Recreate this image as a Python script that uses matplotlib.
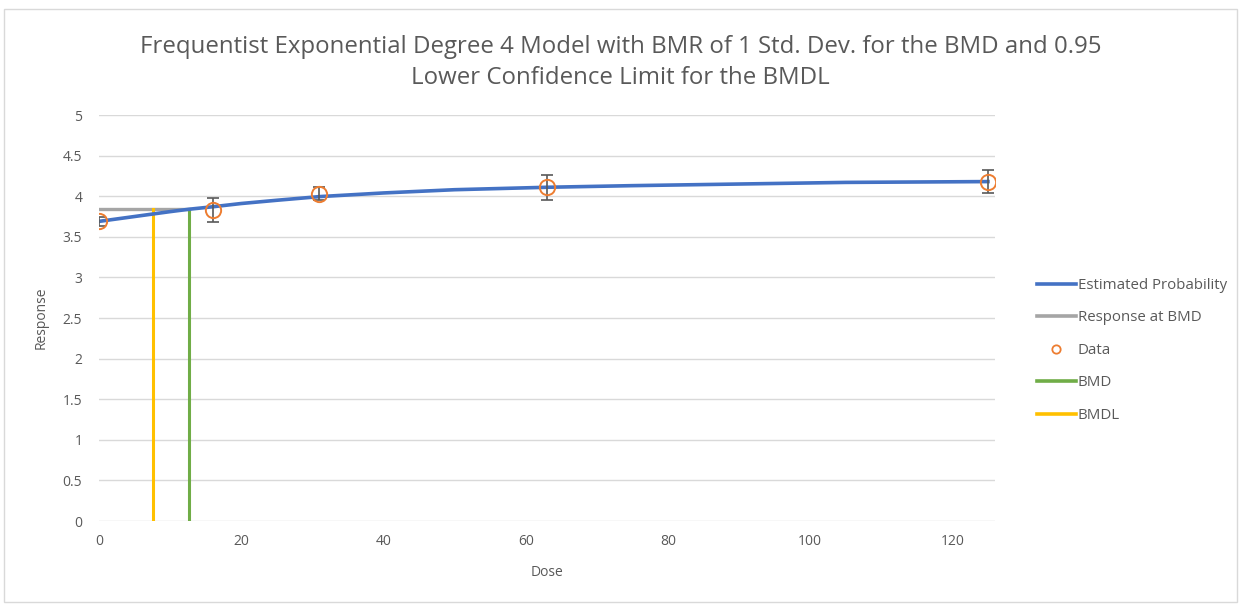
import matplotlib.pyplot as plt
from matplotlib.lines import Line2D
from matplotlib.patches import Rectangle

plt.rcParams['font.family'] = ['Open Sans', 'DejaVu Sans']

# model curve
curve_dose = [0, 5, 10, 12.7, 16, 20, 25, 31, 40, 50, 63, 75, 90, 105, 125]
curve_resp = [3.69, 3.75, 3.81, 3.84, 3.87, 3.91, 3.95, 3.995, 4.04, 4.08, 4.11, 4.13, 4.15, 4.17, 4.18]

# observed data with error bars
data_dose = [0, 16, 31, 63, 125]
data_resp = [3.69, 3.83, 4.03, 4.11, 4.18]
data_err = [0.06, 0.147, 0.08, 0.155, 0.145]

bmd = 12.7
bmdl = 7.6
resp_at_bmd = 3.846

xticks = [0, 20, 40, 60, 80, 100, 120]
yticks = [0, 0.5, 1, 1.5, 2, 2.5, 3, 3.5, 4, 4.5, 5]
ytick_labels = ['0', '0.5', '1', '1.5', '2', '2.5', '3', '3.5', '4', '4.5', '5']

txt = '#595959'
blue = '#4472C4'
gray = '#A5A5A5'
orange = '#ED7D31'
green = '#70AD47'
yellow = '#FFC000'

fig = plt.figure(figsize=(12.41, 6.04), dpi=100)
ax = fig.add_axes([0.0798, 0.1374, 0.7220, 0.6722])

# chart border
fig.patches.append(Rectangle((0.003, 0.003), 0.994, 0.982, transform=fig.transFigure,
                             fill=False, edgecolor='#D9D9D9', linewidth=1))

ax.plot(curve_dose, curve_resp, color=blue, linewidth=2.6, zorder=4)
ax.plot([0, bmd], [resp_at_bmd, resp_at_bmd], color=gray, linewidth=2.4, zorder=3)
ax.plot([bmd, bmd], [0, resp_at_bmd], color=green, linewidth=2.2, zorder=3)
ax.plot([bmdl, bmdl], [0, resp_at_bmd], color=yellow, linewidth=2.2, zorder=3)
ax.errorbar(data_dose, data_resp, yerr=data_err, fmt='none', ecolor='#595959',
            elinewidth=1.2, capsize=4, capthick=1.2, zorder=5)
ax.plot(data_dose, data_resp, linestyle='none', marker='o', markersize=11,
        markerfacecolor='none', markeredgecolor=orange, markeredgewidth=1.4, zorder=6)

ax.set_xlim(0, 126)
ax.set_ylim(0, 5)
ax.set_xticks(xticks)
ax.set_yticks(yticks)
ax.set_yticklabels(ytick_labels)
ax.grid(axis='y', color='#D9D9D9', linewidth=1)
ax.set_axisbelow(True)
for s in ax.spines.values():
    s.set_visible(False)
ax.tick_params(length=0, colors=txt, labelsize=10, pad=12)
ax.tick_params(axis='x', pad=9)

ax.set_xlabel('Dose', color=txt, fontsize=10, labelpad=12)
ax.set_ylabel('Response', color=txt, fontsize=10, labelpad=10)

fig.text(0.5, 0.922, 'Frequentist Exponential Degree 4 Model with BMR of 1 Std. Dev. for the BMD and 0.95',
         ha='center', va='center', fontsize=17.3, color=txt)
fig.text(0.5, 0.871, 'Lower Confidence Limit for the BMDL',
         ha='center', va='center', fontsize=17.3, color=txt)

handles = [Line2D([], [], color=blue, linewidth=2.6),
           Line2D([], [], color=gray, linewidth=2.6),
           Line2D([], [], linestyle='none', marker='o', markersize=6,
                  markerfacecolor='none', markeredgecolor=orange, markeredgewidth=1.3),
           Line2D([], [], color=green, linewidth=2.6),
           Line2D([], [], color=yellow, linewidth=2.6)]
labels = ['Estimated Probability', 'Response at BMD', 'Data', 'BMD', 'BMDL']
fig.legend(handles, labels, loc='upper left', bbox_to_anchor=(0.8356, 0.540),
           frameon=False, fontsize=10.8, labelcolor=txt, handlelength=2.6,
           handletextpad=0.12, labelspacing=1.17, borderaxespad=0, borderpad=0)

fig.savefig('out.png', dpi=100)
